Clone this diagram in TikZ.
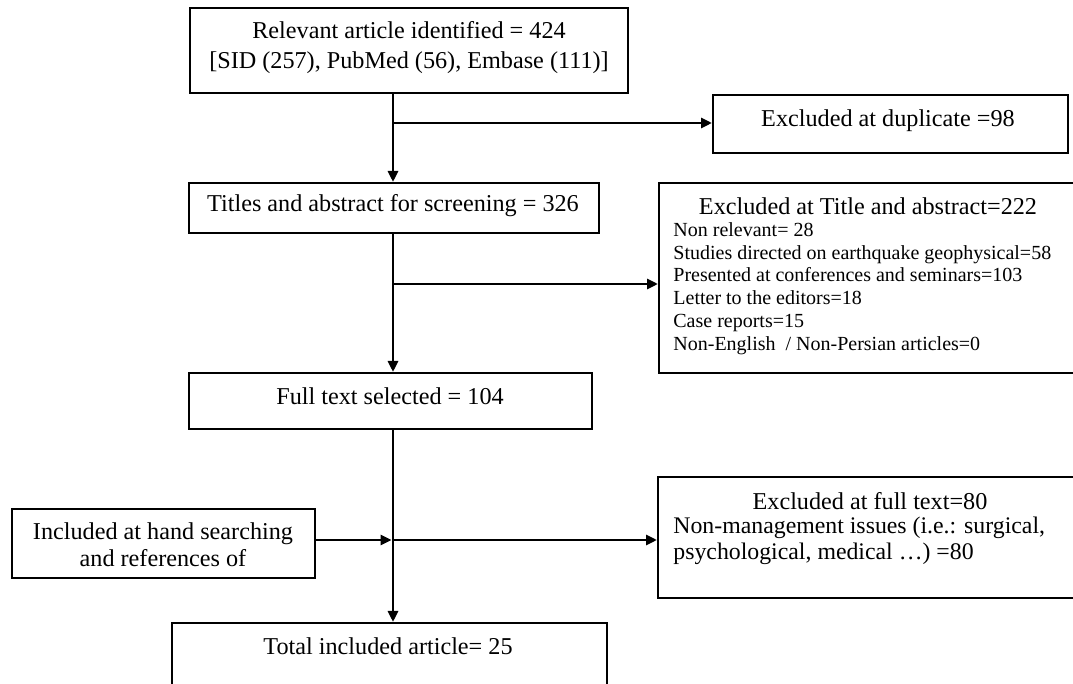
\documentclass[tikz,border=0pt]{standalone}
\usepackage{fontspec}
\setmainfont{Liberation Serif}
\usetikzlibrary{arrows.meta}
\usetikzlibrary{positioning}

\begin{document}
\begin{tikzpicture}[x=0.5pt,y=-0.5pt,
  box/.style={draw,line width=1pt,inner sep=0pt},
  txt/.style={inner sep=0pt,align=center,font=\fontsize{12.1}{14.8}\selectfont},
  lst/.style={inner sep=0pt,align=left,anchor=west},
  flow/.style={line width=1.4pt,-{Triangle[length=5.5pt,width=5pt]}},
  link/.style={line width=1.4pt}]
  \path[use as bounding box,clip] (0,0) rectangle (1073,684);

  % boxes
  \node[box,minimum width=219pt,minimum height=42.5pt] (rel) at (409,50.5){};
  \node[box,minimum width=177.5pt,minimum height=29pt] (dup) at (890.5,124){};
  \node[box,minimum width=205pt,minimum height=25pt] (titles) at (394,208){};
  \node[box,minimum width=213pt,minimum height=95pt] (extitle) at (872,278){};
  \node[box,minimum width=201.5pt,minimum height=28pt] (full) at (390.5,401){};
  \node[box,minimum width=213.5pt,minimum height=60.5pt] (exfull) at (871.5,537.5){};
  \node[box,minimum width=151.5pt,minimum height=34.5pt] (hand) at (163.5,543.5){};
  \node[box,minimum width=217.5pt,minimum height=41pt] (total) at (389.5,664){};

  % texts
  \node[txt] (relT) at (409,47.5){Relevant article identified = 424\\{}[SID (257), PubMed (56), Embase (111)]};
  \node[txt] (dupT) at (888,121){Excluded at duplicate =98};
  \node[txt] (titlesT) at (393,206){Titles and abstract for screening = 326};
  \node[txt] (extitleT) at (868,206){Excluded at Title and abstract=222};
  \node[lst,font=\fontsize{10}{11.4}\selectfont] (extitleL) at (673,288.5){Non relevant= 28\\
    Studies directed on earthquake geophysical=58\\
    Presented at conferences and seminars=103\\
    Letter to the editors=18\\
    Case reports=15\\
    Non-English\ \ / Non-Persian articles=0};
  \node[txt] (fullT) at (390,396){Full text selected = 104};
  \node[txt] (exfullT) at (870,501){Excluded at full text=80};
  \node[lst,font=\fontsize{11.9}{12.7}\selectfont] (exfullL) at (673,541){Non-management issues (i.e.: surgical,\\
    psychological, medical \ldots) =80};
  \node[txt,font=\fontsize{12.1}{13.5}\selectfont] (handT) at (163,544.5){Included at hand searching\\and references of};
  \node[txt] (totalT) at (388,646){Total included article= 25};

  % connectors
  \coordinate (b1) at (393,123);
  \coordinate (b2) at (393,284);
  \coordinate (b3) at (393,540);
  \draw[link] (rel.south -| b1) -- (b1);
  \draw[flow] (b1) -- (titles.north -| b1);
  \draw[flow] (b1) -- (b1 -| dup.west);
  \draw[link] (titles.south -| b2) -- (b2);
  \draw[flow] (b2) -- (full.north -| b2);
  \draw[flow] (b2) -- (b2 -| extitle.west);
  \draw[link] (full.south -| b3) -- (b3);
  \draw[flow] (b3) -- (total.north -| b3);
  \draw[flow] (b3) -- (b3 -| exfull.west);
  \draw[flow,shorten >=0.7pt] (hand.east |- b3) -- (b3);
\end{tikzpicture}
\end{document}
